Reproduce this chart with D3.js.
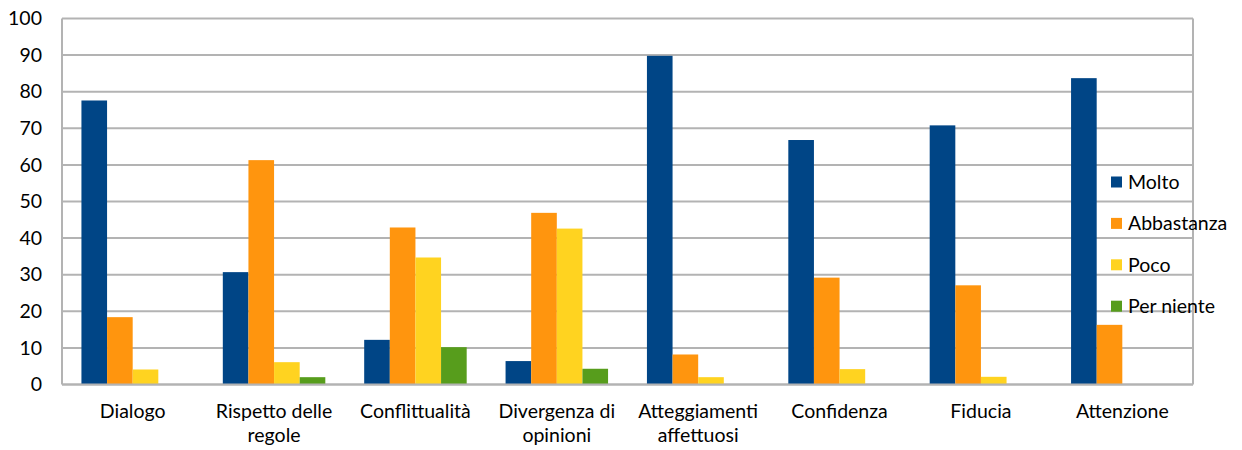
<!DOCTYPE html>
<html>
<head>
<meta charset="utf-8">
<script src="https://cdn.jsdelivr.net/npm/d3@7"></script>
<style>
  html, body { margin: 0; padding: 0; background: #fff; }
  svg { display: block; font-family: Lato, "Open Sans", sans-serif; }
</style>
</head>
<body>
<svg id="chart" width="1242" height="450"></svg>
<script>
// Categories and series values (percent)
const categories = ["Dialogo", "Rispetto delle regole", "Conflittualità", "Divergenza di opinioni",
                    "Atteggiamenti affettuosi", "Confidenza", "Fiducia", "Attenzione"];
const seriesNames = ["Molto", "Abbastanza", "Poco", "Per niente"];
const molto      = [77.6, 30.7, 12.2, 6.4, 89.8, 66.8, 70.8, 83.7];
const abbastanza = [18.4, 61.3, 42.9, 46.9, 8.2, 29.2, 27.1, 16.3];
const poco       = [4.1, 6.1, 34.7, 42.6, 2.0, 4.2, 2.1, 0];
const perNiente  = [0, 2.0, 10.2, 4.3, 0, 0, 0, 0];
const yTicks     = [0, 10, 20, 30, 40, 50, 60, 70, 80, 90, 100];
const colors     = ["#004586", "#ff950e", "#ffd320", "#579d1c"];

const seriesValues = [molto, abbastanza, poco, perNiente];

const svg = d3.select("#chart");
const plot = { left: 62, right: 1193, top: 18.5, bottom: 384.5 };
const fontSize = 19.5;

const x = d3.scaleBand().domain(categories).range([plot.left, plot.right]).padding(0);
const groupFrac = 0.725;
const xs = d3.scaleBand().domain(seriesNames)
  .range([x.bandwidth() * (1 - groupFrac) / 2, x.bandwidth() * (1 + groupFrac) / 2]).padding(0);
const y = d3.scaleLinear().domain([0, 100]).range([plot.bottom, plot.top]);

const gridColor = "#b3b3b3";

// Horizontal gridlines
svg.append("g").selectAll("line").data(yTicks).join("line")
  .attr("x1", plot.left).attr("x2", plot.right)
  .attr("y1", d => y(d)).attr("y2", d => y(d))
  .attr("stroke", gridColor).attr("stroke-width", 2);

// Plot border: left axis and right edge
svg.append("line").attr("x1", plot.left).attr("x2", plot.left)
  .attr("y1", plot.top).attr("y2", plot.bottom)
  .attr("stroke", gridColor).attr("stroke-width", 2);
svg.append("line").attr("x1", plot.right).attr("x2", plot.right)
  .attr("y1", plot.top).attr("y2", plot.bottom)
  .attr("stroke", gridColor).attr("stroke-width", 2);

// Y axis tick labels
const yAxis = d3.axisLeft(y).tickValues(yTicks).tickSize(0).tickPadding(0);
const yg = svg.append("g").attr("transform", `translate(${plot.left - 20},0)`).call(yAxis);
yg.select(".domain").remove();
yg.selectAll("text").attr("font-size", fontSize).attr("fill", "#000")
  .attr("font-family", "Lato, 'Open Sans', sans-serif");

// Bars
const rows = [];
categories.forEach((c, i) => {
  seriesNames.forEach((s, j) => {
    rows.push({ cat: c, series: s, value: seriesValues[j][i], color: colors[j] });
  });
});
svg.append("g").selectAll("rect").data(rows.filter(d => d.value > 0)).join("rect")
  .attr("x", d => x(d.cat) + xs(d.series))
  .attr("width", xs.bandwidth())
  .attr("y", d => y(d.value))
  .attr("height", d => y(0) - y(d.value))
  .attr("fill", d => d.color);

// Baseline redrawn over bars
svg.append("line").attr("x1", plot.left).attr("x2", plot.right)
  .attr("y1", y(0)).attr("y2", y(0))
  .attr("stroke", gridColor).attr("stroke-width", 2);

// Category labels, wrapped to the band width
const xg = svg.append("g").attr("font-size", fontSize).attr("fill", "#000");
categories.forEach(c => {
  const cx = x(c) + x.bandwidth() / 2;
  const t = xg.append("text")
    .attr("x", cx)
    .attr("y", plot.bottom + 33)
    .attr("text-anchor", "middle");
  const words = c.split(" ");
  let line = [];
  let tspan = t.append("tspan").attr("x", cx).attr("dy", 0);
  words.forEach(w => {
    line.push(w);
    tspan.text(line.join(" "));
    if (tspan.node().getComputedTextLength() > x.bandwidth() - 4 && line.length > 1) {
      line.pop();
      tspan.text(line.join(" "));
      line = [w];
      tspan = t.append("tspan").attr("x", cx).attr("dy", 24).text(w);
    }
  });
});

// Legend
const legend = svg.append("g").attr("transform", "translate(1111,182)");
const li = legend.selectAll("g").data(seriesNames).join("g")
  .attr("transform", (d, i) => `translate(0,${i * 41.4})`);
li.append("rect").attr("x", 0).attr("y", -5.5).attr("width", 11).attr("height", 11)
  .attr("fill", (d, i) => colors[i]);
li.append("text").attr("x", 17).attr("dy", "0.35em").attr("font-size", fontSize)
  .attr("fill", "#000").text(d => d);
</script>
</body>
</html>
